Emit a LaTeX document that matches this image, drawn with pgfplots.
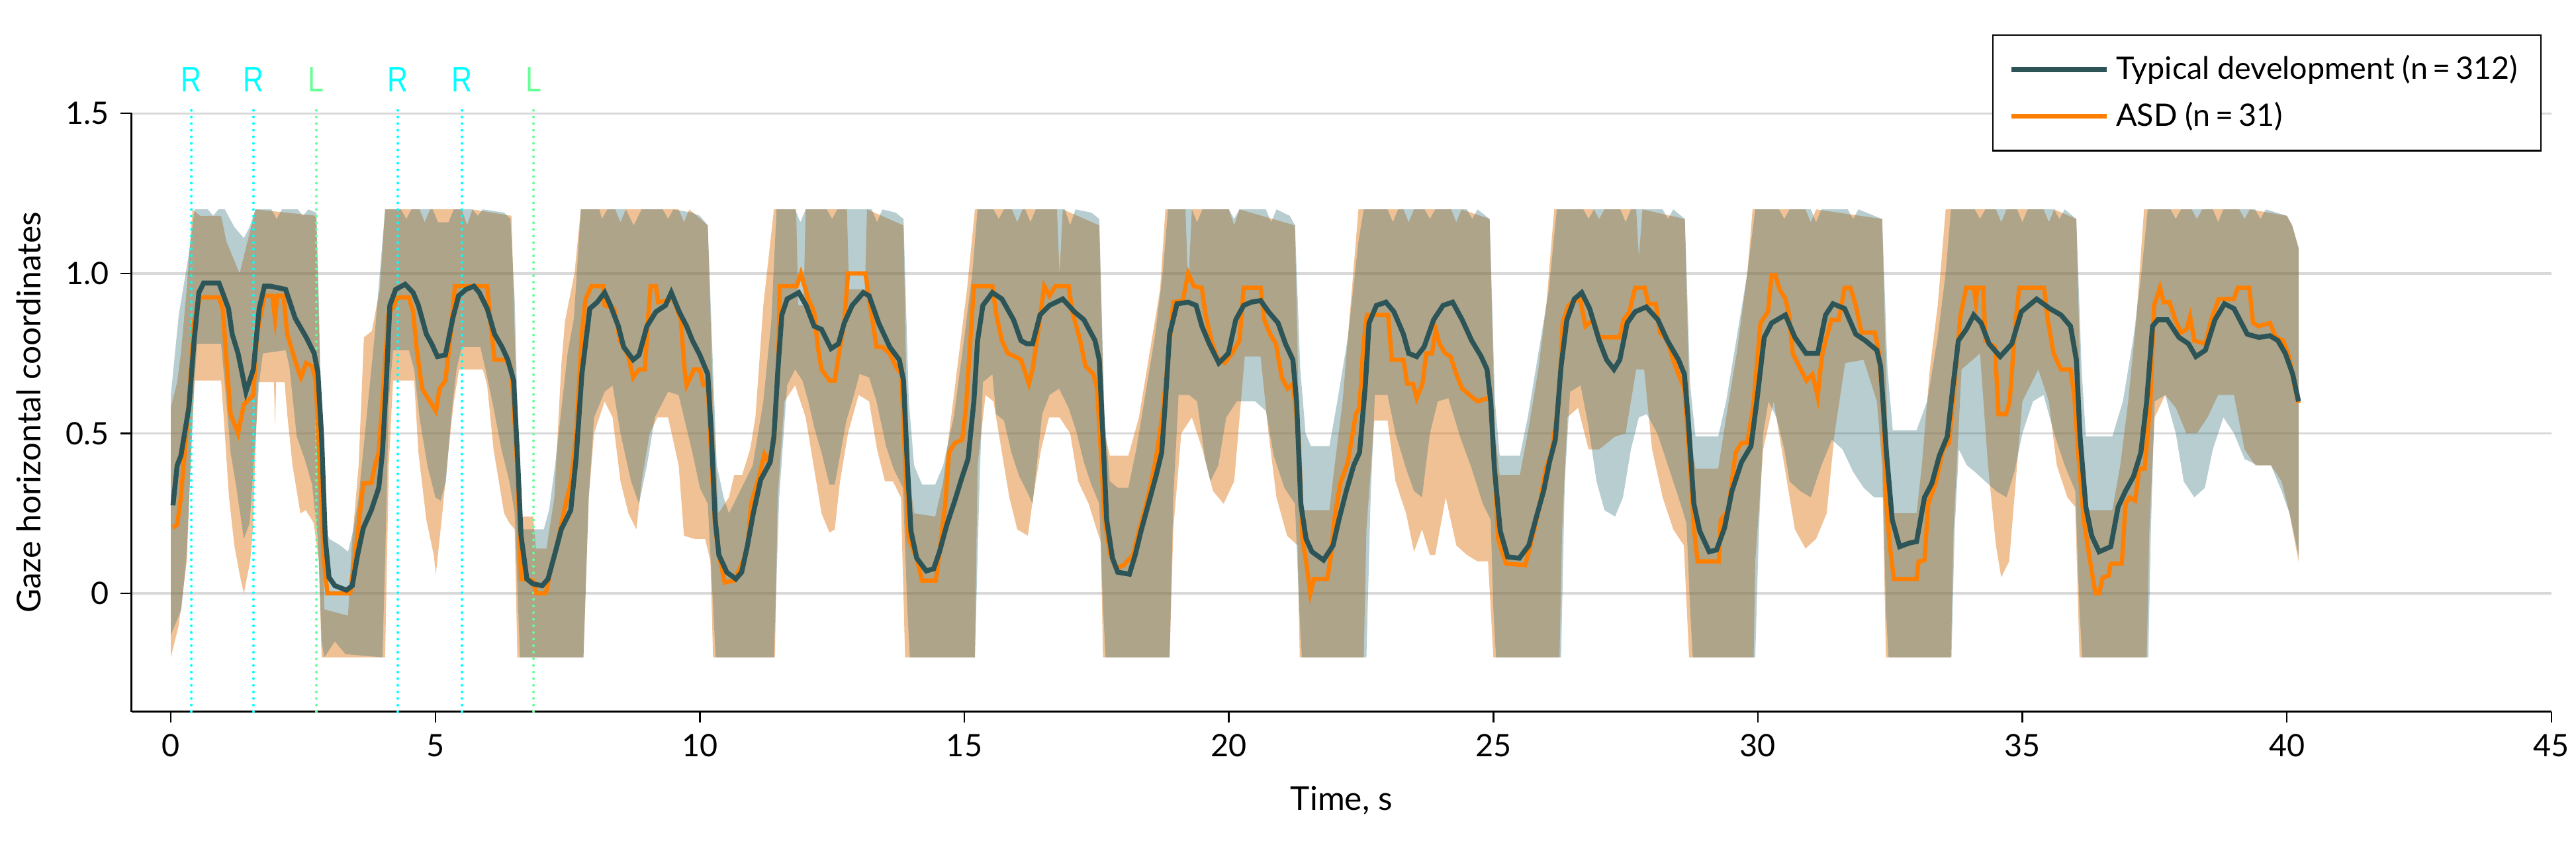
\documentclass[border=0pt]{standalone}
\usepackage{pgfplots}
\pgfplotsset{compat=1.18}
\usepackage{pgfplotstable}
\usepgfplotslibrary{fillbetween}
\usepackage{fontspec}
\setmainfont{Lato}
\newfontfamily\rlfont[FakeStretch=0.8]{Liberation Sans}
\definecolor{tdline}{RGB}{45,85,87}
\definecolor{asdline}{RGB}{255,127,0}
\definecolor{tdfill}{RGB}{49,112,121}
\definecolor{asdfill}{RGB}{222,117,17}
\definecolor{rcol}{RGB}{0,255,255}
\definecolor{lcol}{RGB}{102,255,150}
\definecolor{gridc}{RGB}{217,217,217}

\pgfplotstableread{
t v
0.04 0.275
0.12 0.40
0.19 0.43
0.34 0.58
0.44 0.79
0.53 0.94
0.62 0.97
0.91 0.97
1.09 0.89
1.16 0.81
1.27 0.75
1.42 0.63
1.56 0.70
1.67 0.89
1.77 0.96
1.88 0.96
2.17 0.95
2.35 0.86
2.56 0.80
2.71 0.75
2.78 0.69
2.85 0.49
2.92 0.17
2.99 0.05
3.10 0.024
3.32 0.01
3.43 0.024
3.53 0.12
3.64 0.205
3.79 0.26
3.93 0.33
4.00 0.44
4.07 0.65
4.14 0.90
4.25 0.95
4.43 0.966
4.58 0.94
4.68 0.90
4.83 0.81
4.93 0.78
5.04 0.74
5.19 0.745
5.33 0.86
5.44 0.93
5.58 0.95
5.73 0.96
5.83 0.94
5.98 0.89
6.12 0.81
6.26 0.77
6.37 0.73
6.48 0.665
6.55 0.44
6.62 0.18
6.73 0.045
6.84 0.03
7.02 0.024
7.13 0.045
7.27 0.13
7.38 0.20
7.56 0.26
7.66 0.42
7.77 0.685
7.92 0.89
8.06 0.91
8.20 0.94
8.31 0.90
8.46 0.835
8.56 0.77
8.74 0.73
8.85 0.745
9.00 0.835
9.17 0.88
9.35 0.90
9.46 0.94
9.61 0.88
9.75 0.835
9.86 0.79
10.00 0.745
10.15 0.685
10.22 0.49
10.29 0.23
10.36 0.12
10.51 0.066
10.68 0.045
10.79 0.066
10.90 0.15
11.01 0.25
11.15 0.355
11.33 0.41
11.40 0.49
11.48 0.71
11.55 0.87
11.65 0.92
11.87 0.94
12.01 0.90
12.16 0.835
12.30 0.825
12.48 0.765
12.62 0.78
12.73 0.845
12.88 0.90
13.09 0.94
13.20 0.93
13.38 0.845
13.59 0.77
13.77 0.73
13.85 0.665
13.92 0.41
13.99 0.195
14.10 0.11
14.28 0.07
14.42 0.077
14.53 0.13
14.67 0.215
14.82 0.29
14.96 0.365
15.07 0.42
15.18 0.60
15.25 0.79
15.35 0.90
15.53 0.94
15.71 0.92
15.93 0.855
16.07 0.79
16.18 0.78
16.29 0.78
16.43 0.87
16.61 0.90
16.86 0.92
17.08 0.88
17.26 0.855
17.47 0.79
17.55 0.73
17.62 0.49
17.69 0.23
17.80 0.11
17.90 0.066
18.12 0.06
18.23 0.12
18.34 0.195
18.48 0.28
18.62 0.365
18.73 0.44
18.80 0.60
18.88 0.81
19.02 0.905
19.23 0.91
19.38 0.90
19.49 0.835
19.63 0.78
19.81 0.72
19.99 0.75
20.13 0.855
20.28 0.90
20.42 0.91
20.60 0.915
20.75 0.88
20.93 0.845
21.07 0.78
21.21 0.73
21.28 0.60
21.36 0.28
21.46 0.17
21.57 0.13
21.79 0.104
21.97 0.15
22.08 0.23
22.22 0.32
22.36 0.40
22.47 0.44
22.58 0.65
22.65 0.845
22.79 0.90
22.97 0.91
23.12 0.88
23.30 0.81
23.40 0.75
23.55 0.74
23.69 0.77
23.87 0.855
24.05 0.90
24.23 0.91
24.41 0.855
24.59 0.79
24.77 0.74
24.88 0.70
24.95 0.60
25.02 0.39
25.13 0.195
25.27 0.114
25.49 0.11
25.67 0.15
25.81 0.237
25.95 0.32
26.06 0.41
26.17 0.48
26.28 0.71
26.39 0.855
26.53 0.92
26.67 0.94
26.82 0.89
27.00 0.79
27.14 0.73
27.28 0.70
27.39 0.73
27.53 0.845
27.68 0.88
27.89 0.895
28.11 0.855
28.29 0.79
28.50 0.73
28.61 0.685
28.68 0.55
28.79 0.28
28.90 0.195
29.08 0.13
29.22 0.136
29.37 0.205
29.51 0.32
29.69 0.41
29.87 0.46
29.98 0.60
30.12 0.80
30.26 0.845
30.52 0.87
30.70 0.80
30.91 0.75
31.13 0.75
31.28 0.87
31.42 0.905
31.64 0.89
31.85 0.81
32.03 0.79
32.25 0.76
32.32 0.71
32.43 0.44
32.54 0.23
32.68 0.146
32.86 0.157
33.00 0.162
33.15 0.30
33.29 0.344
33.43 0.43
33.58 0.49
33.69 0.65
33.79 0.79
33.94 0.825
34.08 0.87
34.22 0.845
34.37 0.78
34.58 0.74
34.80 0.78
34.98 0.88
35.27 0.92
35.52 0.89
35.73 0.87
35.91 0.835
36.02 0.73
36.09 0.49
36.20 0.27
36.31 0.18
36.45 0.13
36.67 0.146
36.81 0.27
36.95 0.32
37.10 0.365
37.24 0.44
37.35 0.60
37.46 0.835
37.56 0.855
37.74 0.855
37.96 0.80
38.14 0.78
38.28 0.74
38.46 0.76
38.64 0.855
38.82 0.905
39.00 0.89
39.25 0.81
39.47 0.80
39.68 0.805
39.83 0.79
39.97 0.75
40.11 0.685
40.22 0.60
}\tdmean

\pgfplotstableread{
t v
0.04 0.205
0.12 0.215
0.19 0.30
0.34 0.60
0.44 0.85
0.55 0.925
0.91 0.925
0.98 0.89
1.06 0.71
1.13 0.56
1.27 0.50
1.38 0.59
1.56 0.62
1.63 0.81
1.77 0.93
1.92 0.93
1.97 0.86
2.01 0.93
2.13 0.93
2.20 0.81
2.31 0.75
2.38 0.71
2.46 0.675
2.56 0.72
2.67 0.71
2.74 0.665
2.82 0.39
2.89 0.11
2.96 0.0
3.39 0.0
3.50 0.14
3.64 0.345
3.79 0.345
3.86 0.40
3.93 0.44
4.00 0.60
4.11 0.87
4.22 0.90
4.29 0.925
4.50 0.925
4.58 0.88
4.65 0.76
4.75 0.64
4.86 0.61
5.01 0.57
5.08 0.64
5.19 0.665
5.29 0.81
5.37 0.96
5.98 0.96
6.05 0.835
6.12 0.73
6.33 0.73
6.44 0.70
6.55 0.39
6.62 0.045
6.84 0.04
6.91 0.0
7.09 0.0
7.20 0.09
7.30 0.15
7.45 0.27
7.56 0.345
7.66 0.49
7.77 0.81
7.84 0.92
7.95 0.96
8.17 0.96
8.20 0.90
8.38 0.89
8.49 0.79
8.64 0.745
8.74 0.675
8.85 0.70
8.96 0.70
9.03 0.88
9.07 0.96
9.17 0.96
9.21 0.91
9.50 0.92
9.64 0.855
9.71 0.70
9.75 0.65
9.89 0.70
10.00 0.70
10.07 0.65
10.15 0.65
10.22 0.41
10.29 0.205
10.36 0.12
10.47 0.034
10.65 0.04
10.79 0.09
10.90 0.14
10.97 0.28
11.12 0.365
11.22 0.435
11.30 0.41
11.40 0.47
11.48 0.71
11.51 0.96
11.83 0.96
11.91 1.00
11.98 0.96
12.05 0.92
12.16 0.88
12.23 0.77
12.30 0.70
12.45 0.665
12.55 0.665
12.62 0.74
12.73 0.845
12.80 1.00
13.13 1.00
13.20 0.92
13.34 0.77
13.45 0.77
13.59 0.75
13.70 0.71
13.81 0.685
13.88 0.41
13.95 0.17
14.10 0.11
14.20 0.04
14.46 0.04
14.53 0.13
14.64 0.28
14.71 0.44
14.82 0.47
14.96 0.48
15.03 0.58
15.18 0.96
15.53 0.96
15.60 0.875
15.71 0.79
15.82 0.75
15.96 0.74
16.07 0.73
16.22 0.655
16.29 0.70
16.40 0.825
16.51 0.96
16.61 0.93
16.72 0.96
16.97 0.96
17.04 0.88
17.19 0.79
17.29 0.71
17.44 0.685
17.51 0.64
17.58 0.44
17.65 0.23
17.76 0.12
17.87 0.077
18.01 0.088
18.19 0.12
18.30 0.195
18.41 0.26
18.52 0.335
18.62 0.42
18.73 0.54
18.84 0.71
18.95 0.91
19.13 0.915
19.23 1.00
19.34 0.96
19.49 0.955
19.56 0.87
19.67 0.79
19.77 0.74
19.92 0.72
20.06 0.75
20.20 0.79
20.28 0.955
20.60 0.955
20.67 0.855
20.78 0.81
20.89 0.78
21.00 0.675
21.11 0.64
21.21 0.655
21.32 0.49
21.39 0.17
21.46 0.10
21.54 0.0
21.61 0.045
21.86 0.045
21.93 0.12
22.00 0.237
22.11 0.345
22.25 0.41
22.40 0.56
22.47 0.58
22.54 0.77
22.61 0.87
23.01 0.87
23.08 0.73
23.30 0.73
23.37 0.655
23.48 0.655
23.55 0.61
23.66 0.655
23.73 0.75
23.84 0.75
23.91 0.825
23.98 0.78
24.09 0.75
24.19 0.74
24.30 0.685
24.41 0.64
24.55 0.62
24.70 0.60
24.88 0.61
24.95 0.60
25.02 0.39
25.09 0.17
25.24 0.093
25.60 0.088
25.67 0.13
25.77 0.195
25.88 0.28
25.99 0.39
26.10 0.44
26.24 0.60
26.31 0.845
26.42 0.90
26.49 0.91
26.64 0.92
26.74 0.835
26.89 0.855
27.00 0.80
27.39 0.80
27.46 0.855
27.57 0.88
27.68 0.955
27.86 0.955
27.93 0.905
28.07 0.905
28.15 0.815
28.29 0.79
28.40 0.73
28.50 0.685
28.61 0.64
28.72 0.39
28.79 0.205
28.86 0.10
29.26 0.10
29.30 0.23
29.44 0.26
29.58 0.44
29.69 0.47
29.80 0.47
29.91 0.58
30.05 0.845
30.19 0.88
30.26 0.995
30.33 0.995
30.41 0.95
30.52 0.92
30.59 0.87
30.66 0.75
30.81 0.70
30.92 0.665
31.03 0.685
31.13 0.615
31.21 0.74
31.28 0.79
31.39 0.855
31.53 0.855
31.64 0.955
31.75 0.955
31.85 0.90
31.96 0.815
32.21 0.815
32.28 0.76
32.36 0.60
32.43 0.28
32.50 0.14
32.57 0.045
33.00 0.045
33.04 0.10
33.15 0.104
33.22 0.28
33.36 0.345
33.50 0.45
33.61 0.47
33.72 0.655
33.83 0.87
33.94 0.955
34.08 0.955
34.12 0.91
34.15 0.955
34.26 0.955
34.30 0.79
34.48 0.77
34.55 0.56
34.69 0.56
34.76 0.60
34.87 0.845
34.94 0.955
35.41 0.955
35.48 0.855
35.59 0.75
35.73 0.70
35.91 0.70
35.98 0.62
36.06 0.43
36.16 0.23
36.27 0.11
36.38 0.0
36.45 0.0
36.52 0.05
36.63 0.055
36.67 0.093
36.88 0.093
36.95 0.28
37.03 0.30
37.13 0.29
37.21 0.39
37.31 0.39
37.42 0.60
37.49 0.90
37.60 0.955
37.67 0.91
37.78 0.91
37.89 0.855
38.00 0.815
38.10 0.825
38.17 0.865
38.25 0.79
38.46 0.78
38.57 0.855
38.71 0.92
39.00 0.92
39.07 0.955
39.29 0.955
39.36 0.845
39.47 0.835
39.68 0.845
39.79 0.80
39.93 0.79
40.04 0.74
40.15 0.645
40.22 0.595
}\asdmean

\pgfplotstableread{
t v
0 0.62
0.15 0.87
0.23 0.95
0.34 1.06
0.45 1.2
0.7 1.2
0.8 1.18
0.9 1.2
1.02 1.2
1.2 1.145
1.38 1.11
1.49 1.145
1.6 1.2
1.9 1.2
2.0 1.17
2.1 1.2
2.4 1.2
2.5 1.18
2.6 1.2
2.75 1.19
2.8 0.9
2.86 0.4
2.92 0.2
3.0 0.17
3.2 0.15
3.35 0.13
3.45 0.2
3.55 0.3
3.7 0.55
3.85 0.8
3.95 1.0
4.05 1.2
4.35 1.2
4.45 1.17
4.55 1.2
4.95 1.2
5.05 1.16
5.25 1.16
5.35 1.2
5.7 1.2
5.8 1.18
5.9 1.2
6.3 1.19
6.42 1.17
6.5 0.92
6.58 0.4
6.65 0.2
7.05 0.2
7.15 0.26
7.27 0.41
7.4 0.6
7.5 0.75
7.62 0.86
7.75 1.2
8.1 1.2
8.15 1.17
8.25 1.2
8.6 1.2
8.75 1.15
8.9 1.2
9.3 1.2
9.4 1.17
9.5 1.2
9.85 1.19
10.0 1.18
10.15 1.15
10.25 0.7
10.32 0.4
10.45 0.3
10.55 0.25
10.7 0.3
10.85 0.35
11.0 0.4
11.2 0.6
11.35 0.85
11.45 1.2
11.8 1.2
11.9 1.16
12.0 1.2
12.4 1.2
12.5 1.17
12.6 1.2
13.25 1.2
13.35 1.16
13.45 1.2
13.7 1.19
13.85 1.17
13.95 0.6
14.05 0.4
14.2 0.34
14.45 0.34
14.6 0.4
14.8 0.55
15.0 0.8
15.15 1.0
15.25 1.2
15.55 1.2
15.65 1.17
15.75 1.2
16.15 1.2
16.25 1.16
16.35 1.2
16.9 1.2
17.0 1.15
17.1 1.2
17.4 1.19
17.55 1.17
17.65 0.55
17.75 0.35
17.9 0.33
18.1 0.33
18.25 0.45
18.4 0.6
18.6 0.8
18.75 1.0
18.85 1.2
19.3 1.2
19.4 1.16
19.5 1.2
20.0 1.2
20.1 1.17
20.2 1.2
20.7 1.2
20.8 1.16
20.9 1.2
21.15 1.18
21.25 1.15
21.35 0.7
21.45 0.5
21.55 0.46
21.9 0.46
22.05 0.6
22.25 0.8
22.45 1.1
22.55 1.2
23.0 1.2
23.1 1.16
23.2 1.2
23.7 1.2
23.8 1.17
23.9 1.2
24.5 1.2
24.6 1.17
24.7 1.2
24.93 1.17
25.03 0.6
25.12 0.43
25.5 0.43
25.65 0.55
25.85 0.75
26.05 0.95
26.2 1.2
26.7 1.2
26.8 1.17
26.9 1.2
27.4 1.2
27.5 1.16
27.6 1.2
28.2 1.2
28.3 1.17
28.4 1.2
28.62 1.17
28.72 0.65
28.82 0.49
29.25 0.49
29.4 0.6
29.6 0.8
29.8 1.0
29.95 1.2
30.4 1.2
30.5 1.17
30.6 1.2
31.0 1.2
31.1 1.16
31.2 1.2
31.7 1.2
31.8 1.17
31.9 1.2
32.35 1.17
32.45 0.7
32.55 0.51
33.0 0.51
33.2 0.6
33.4 0.8
33.55 1.0
33.65 1.2
34.1 1.2
34.2 1.17
34.3 1.2
34.9 1.2
35.0 1.16
35.1 1.2
35.6 1.2
35.7 1.17
35.8 1.2
36.02 1.17
36.12 0.7
36.2 0.49
36.7 0.49
36.9 0.6
37.1 0.8
37.25 1.0
37.37 1.2
37.8 1.2
37.9 1.17
38.0 1.2
38.6 1.2
38.7 1.16
38.8 1.2
39.4 1.2
39.5 1.17
39.6 1.2
40.0 1.18
40.1 1.15
40.22 1.08
}\tdup

\pgfplotstableread{
t v
0 -0.13
0.2 -0.05
0.3 0.12
0.37 0.39
0.44 0.65
0.5 0.78
0.95 0.78
1.05 0.6
1.13 0.44
1.24 0.33
1.38 0.17
1.49 0.22
1.56 0.39
1.67 0.66
1.74 0.75
2.17 0.76
2.24 0.71
2.38 0.49
2.53 0.42
2.67 0.34
2.78 0.17
2.85 -0.15
2.9 -0.2
3.1 -0.15
3.3 -0.19
4.0 -0.2
4.05 0.1
4.12 0.6
4.2 0.76
4.5 0.76
4.6 0.7
4.7 0.55
4.85 0.40
5.0 0.3
5.1 0.29
5.2 0.35
5.3 0.55
5.4 0.7
5.5 0.77
5.85 0.77
5.95 0.7
6.1 0.58
6.25 0.45
6.4 0.35
6.5 0.25
6.6 -0.2
7.8 -0.2
7.9 0.3
8.0 0.55
8.2 0.63
8.35 0.65
8.5 0.5
8.7 0.35
8.85 0.28
9.0 0.4
9.15 0.55
9.4 0.63
9.6 0.62
9.7 0.55
9.86 0.44
10.0 0.33
10.15 0.28
10.25 -0.04
10.3 -0.2
11.4 -0.2
11.5 0.3
11.65 0.65
11.8 0.7
11.94 0.665
12.05 0.6
12.16 0.52
12.3 0.44
12.45 0.34
12.55 0.34
12.66 0.44
12.77 0.54
12.88 0.6
13.02 0.686
13.2 0.675
13.34 0.6
13.52 0.46
13.66 0.39
13.84 0.33
13.92 -0.04
13.97 -0.2
15.2 -0.2
15.28 0.3
15.35 0.66
15.53 0.685
15.6 0.56
15.75 0.54
15.89 0.44
16.04 0.365
16.18 0.32
16.29 0.28
16.4 0.45
16.47 0.56
16.61 0.62
16.79 0.64
16.97 0.58
17.11 0.51
17.26 0.41
17.4 0.34
17.55 0.28
17.62 -0.04
17.67 -0.2
18.88 -0.2
18.95 0.3
19.05 0.62
19.25 0.62
19.4 0.6
19.55 0.42
19.65 0.35
19.8 0.4
19.95 0.55
20.15 0.6
20.5 0.6
20.7 0.57
20.85 0.43
21.05 0.33
21.25 0.28
21.33 -0.05
21.38 -0.2
22.6 -0.2
22.68 0.3
22.76 0.62
23.0 0.62
23.15 0.5
23.35 0.39
23.5 0.32
23.65 0.3
23.8 0.5
23.95 0.6
24.15 0.61
24.37 0.49
24.59 0.39
24.8 0.28
24.95 0.23
25.0 -0.05
25.05 -0.2
26.28 -0.2
26.35 0.35
26.45 0.63
26.65 0.65
26.8 0.52
26.95 0.35
27.1 0.26
27.3 0.24
27.45 0.3
27.6 0.45
27.75 0.55
27.9 0.56
28.1 0.5
28.3 0.4
28.5 0.3
28.65 0.22
28.72 -0.05
28.77 -0.2
29.95 -0.2
30.02 0.2
30.1 0.5
30.2 0.6
30.35 0.55
30.5 0.45
30.6 0.35
30.8 0.32
31.0 0.3
31.2 0.4
31.4 0.48
31.6 0.45
31.8 0.38
32.0 0.33
32.2 0.3
32.37 0.3
32.42 -0.05
32.47 -0.2
33.66 -0.2
33.72 0.2
33.8 0.45
33.95 0.4
34.1 0.38
34.3 0.35
34.5 0.32
34.7 0.3
34.85 0.38
35.0 0.5
35.2 0.6
35.4 0.62
35.6 0.5
35.8 0.4
36.0 0.32
36.08 -0.05
36.13 -0.2
37.38 -0.2
37.43 0.2
37.5 0.6
37.7 0.62
37.9 0.5
38.05 0.35
38.25 0.3
38.45 0.33
38.6 0.45
38.8 0.55
39.0 0.5
39.2 0.42
39.45 0.4
39.7 0.4
39.9 0.32
40.05 0.25
40.22 0.12
}\tdlo

\pgfplotstableread{
t v
0 0.58
0.12 0.66
0.19 0.75
0.3 0.95
0.41 1.2
0.55 1.18
0.95 1.18
1.05 1.1
1.3 1.0
1.45 1.1
1.6 1.2
2.75 1.18
2.82 0.7
2.9 -0.05
3.35 -0.07
3.42 0.15
3.55 0.4
3.65 0.8
3.8 0.82
3.95 0.95
4.05 1.2
4.7 1.2
4.8 1.16
4.9 1.2
5.5 1.2
5.6 1.15
5.7 1.2
6.44 1.18
6.55 0.5
6.62 0.24
6.85 0.24
6.9 0.14
7.1 0.14
7.25 0.3
7.38 0.71
7.45 0.85
7.63 1.0
7.75 1.2
8.4 1.2
8.5 1.16
8.6 1.2
9.6 1.2
9.7 1.16
9.8 1.2
10.15 1.15
10.25 0.6
10.35 0.25
10.55 0.3
10.65 0.37
10.8 0.37
10.95 0.45
11.05 0.55
11.2 0.9
11.4 1.2
11.82 1.2
11.86 0.9
11.96 0.9
12.0 1.2
12.78 1.2
12.82 0.95
13.12 0.95
13.16 1.2
13.85 1.15
13.93 0.4
14.05 0.25
14.45 0.24
14.6 0.35
14.75 0.55
14.9 0.75
15.05 0.95
15.2 1.2
15.9 1.2
16.0 1.16
16.1 1.2
16.75 1.2
16.8 1.0
16.86 1.2
17.55 1.15
17.65 0.5
17.75 0.43
18.1 0.43
18.3 0.55
18.5 0.75
18.7 0.95
18.8 1.2
19.18 1.2
19.23 0.95
19.3 1.2
20.0 1.2
20.1 1.15
20.2 1.2
21.25 1.15
21.33 0.5
21.4 0.26
21.9 0.26
22.0 0.4
22.15 0.6
22.3 0.9
22.45 1.2
23.3 1.2
23.4 1.16
23.5 1.2
24.2 1.2
24.3 1.16
24.4 1.2
24.93 1.17
25.03 0.5
25.12 0.37
25.5 0.37
25.65 0.5
25.85 0.7
26.0 0.9
26.15 1.2
26.9 1.2
27.0 1.17
27.1 1.2
27.7 1.2
27.75 1.05
27.82 1.2
28.62 1.17
28.72 0.5
28.82 0.39
29.25 0.39
29.4 0.55
29.6 0.75
29.8 1.0
29.9 1.2
30.9 1.2
31.0 1.16
31.1 1.2
32.35 1.17
32.45 0.5
32.55 0.25
33.0 0.25
33.1 0.4
33.25 0.7
33.4 0.9
33.55 1.2
34.5 1.2
34.6 1.16
34.7 1.2
35.4 1.2
35.5 1.16
35.6 1.2
36.02 1.17
36.12 0.5
36.2 0.26
36.7 0.26
36.85 0.4
37.0 0.6
37.15 0.85
37.3 1.2
38.2 1.2
38.3 1.17
38.4 1.2
39.1 1.2
39.2 1.17
39.3 1.2
40.0 1.18
40.1 1.15
40.22 1.08
}\asdup

\pgfplotstableread{
t v
0 -0.2
0.15 -0.1
0.3 0.1
0.4 0.5
0.45 0.665
0.95 0.665
1.0 0.55
1.1 0.3
1.2 0.15
1.3 0.06
1.38 0.0
1.5 0.1
1.55 0.2
1.6 0.45
1.65 0.66
1.95 0.66
1.97 0.52
1.99 0.66
2.15 0.66
2.2 0.56
2.3 0.4
2.45 0.25
2.55 0.26
2.7 0.22
2.8 0.1
2.85 -0.2
4.05 -0.2
4.12 0.4
4.2 0.665
4.6 0.665
4.68 0.44
4.83 0.23
4.97 0.12
5.01 0.06
5.08 0.17
5.15 0.28
5.25 0.45
5.35 0.6
5.45 0.7
5.9 0.7
5.98 0.65
6.1 0.45
6.2 0.35
6.3 0.25
6.4 0.22
6.5 0.2
6.55 -0.2
7.8 -0.2
7.9 0.3
8.0 0.5
8.2 0.6
8.35 0.55
8.5 0.35
8.65 0.25
8.8 0.2
8.9 0.35
9.05 0.5
9.2 0.55
9.4 0.55
9.6 0.4
9.7 0.18
9.9 0.17
10.1 0.17
10.2 0.1
10.25 -0.2
11.42 -0.2
11.47 0.3
11.6 0.6
11.8 0.65
12.0 0.55
12.15 0.4
12.3 0.25
12.45 0.19
12.55 0.2
12.65 0.35
12.8 0.5
13.0 0.62
13.2 0.6
13.35 0.45
13.5 0.35
13.65 0.35
13.8 0.3
13.88 -0.2
15.2 -0.2
15.25 0.4
15.4 0.62
15.55 0.6
15.7 0.45
15.85 0.3
16.0 0.2
16.2 0.18
16.3 0.3
16.45 0.45
16.6 0.55
16.8 0.55
17.0 0.5
17.15 0.35
17.35 0.28
17.5 0.2
17.58 0.16
17.62 -0.2
18.88 -0.2
18.95 0.2
19.1 0.5
19.3 0.55
19.5 0.45
19.7 0.32
19.9 0.28
20.1 0.35
20.3 0.74
20.6 0.74
20.75 0.5
20.9 0.3
21.1 0.18
21.3 0.15
21.34 -0.2
22.55 -0.2
22.6 0.2
22.75 0.54
23.0 0.54
23.15 0.35
23.35 0.25
23.5 0.13
23.65 0.2
23.8 0.12
23.9 0.12
24.1 0.3
24.3 0.15
24.5 0.12
24.7 0.1
24.9 0.1
25.0 -0.2
26.25 -0.2
26.3 0.2
26.4 0.55
26.6 0.58
26.8 0.45
27.0 0.45
27.3 0.49
27.5 0.5
27.7 0.7
27.85 0.7
28.0 0.45
28.2 0.3
28.4 0.2
28.6 0.15
28.7 -0.2
29.92 -0.2
29.95 0.1
30.1 0.45
30.3 0.6
30.5 0.4
30.7 0.2
30.9 0.14
31.1 0.17
31.3 0.25
31.45 0.5
31.65 0.72
32.0 0.73
32.25 0.6
32.35 0.4
32.42 -0.2
33.65 -0.2
33.7 0.2
33.85 0.7
34.2 0.75
34.35 0.4
34.5 0.15
34.6 0.05
34.75 0.1
34.85 0.3
35.0 0.6
35.3 0.7
35.5 0.6
35.65 0.4
35.85 0.3
36.0 0.27
36.08 -0.2
37.35 -0.2
37.4 0.2
37.5 0.55
37.7 0.62
37.9 0.58
38.1 0.5
38.3 0.5
38.5 0.55
38.7 0.62
39.0 0.62
39.2 0.45
39.4 0.4
39.7 0.4
39.9 0.35
40.05 0.25
40.22 0.1
}\asdlo

\begin{document}
\begin{tikzpicture}
\begin{axis}[
  scale only axis,
  width=736.5pt, height=182pt,
  xmin=-0.745, xmax=45, ymin=-0.37, ymax=1.5,
  axis x line*=bottom, axis y line*=left,
  axis line style={black, line width=0.6pt},
  xtick={0,5,...,45},
  ytick={0,0.5,1,1.5},
  yticklabels={0,0.5,1.0,1.5},
  ymajorgrids,
  grid style={gridc, line width=0.7pt},
  tick align=outside,
  major tick length=3.3pt,
  tick style={black, line width=0.5pt},
  /pgf/number format/assume math mode=true,
  ticklabel style={font=\fontsize{9.4}{11}\selectfont},
  xlabel={Time, s},
  ylabel={Gaze horizontal coordinates},
  label style={font=\fontsize{10.5}{12}\selectfont},
  every axis x label/.style={at={(axis description cs:0.5,0)}, anchor=center, yshift=-27pt},
  every axis y label/.style={at={(axis description cs:-0.0425,0.5)}, rotate=90, anchor=center},
  clip=false,
  legend style={at={(0.996,1.132)}, anchor=north east, draw=black, line width=0.5pt,
    font=\fontsize{9.4}{11}\selectfont, inner xsep=5pt, inner ysep=4pt,
    row sep=1.5pt, nodes={inner sep=2pt}},
  legend cell align=left,
  legend image code/.code={\draw[#1, line width=1.5pt] (0pt,0pt) -- (29pt,0pt);},
]
\coordinate (bl) at (rel axis cs:0,0);
\coordinate (tr) at (rel axis cs:1,1);

\addplot[name path=ou, draw=none, forget plot] table[x=t,y=v] {\asdup};
\addplot[name path=ol, draw=none, forget plot] table[x=t,y=v] {\asdlo};
\addplot[name path=tu, draw=none, forget plot] table[x=t,y=v] {\tdup};
\addplot[name path=tl, draw=none, forget plot] table[x=t,y=v] {\tdlo};

\addplot[asdfill, fill opacity=0.45, draw=none, forget plot] fill between[of=ou and ol];
\addplot[tdfill, fill opacity=0.35, draw=none, forget plot] fill between[of=tu and tl];

\addplot[rcol, line width=0.8pt, dash pattern=on 0.01pt off 2pt, line cap=round, forget plot] coordinates {(0.39,-0.37) (0.39,1.515)};
\addplot[rcol, line width=0.8pt, dash pattern=on 0.01pt off 2pt, line cap=round, forget plot] coordinates {(1.56,-0.37) (1.56,1.515)};
\addplot[lcol, line width=0.8pt, dash pattern=on 0.01pt off 2pt, line cap=round, forget plot] coordinates {(2.75,-0.37) (2.75,1.515)};
\addplot[rcol, line width=0.8pt, dash pattern=on 0.01pt off 2pt, line cap=round, forget plot] coordinates {(4.29,-0.37) (4.29,1.515)};
\addplot[rcol, line width=0.8pt, dash pattern=on 0.01pt off 2pt, line cap=round, forget plot] coordinates {(5.50,-0.37) (5.50,1.515)};
\addplot[lcol, line width=0.8pt, dash pattern=on 0.01pt off 2pt, line cap=round, forget plot] coordinates {(6.86,-0.37) (6.86,1.515)};

\node[rcol, font=\rlfont\fontsize{10.8}{12}\selectfont] at (axis cs:0.39,1.605) {R};
\node[rcol, font=\rlfont\fontsize{10.8}{12}\selectfont] at (axis cs:1.56,1.605) {R};
\node[lcol, font=\rlfont\fontsize{10.8}{12}\selectfont] at (axis cs:2.75,1.605) {L};
\node[rcol, font=\rlfont\fontsize{10.8}{12}\selectfont] at (axis cs:4.29,1.605) {R};
\node[rcol, font=\rlfont\fontsize{10.8}{12}\selectfont] at (axis cs:5.50,1.605) {R};
\node[lcol, font=\rlfont\fontsize{10.8}{12}\selectfont] at (axis cs:6.86,1.605) {L};

\addplot[asdline, line width=1.3pt, forget plot] table[x=t,y=v] {\asdmean};
\addplot[tdline, line width=1.5pt] table[x=t,y=v] {\tdmean};
\addlegendentry{Typical development (n\,=\,312)}
\addlegendimage{asdline}
\addlegendentry{ASD (n\,=\,31)}
\end{axis}
\pgfresetboundingbox
\path[use as bounding box] ([shift={(-40pt,-40.5pt)}]bl) rectangle ([shift={(7.5pt,34.5pt)}]tr);
\end{tikzpicture}
\end{document}
